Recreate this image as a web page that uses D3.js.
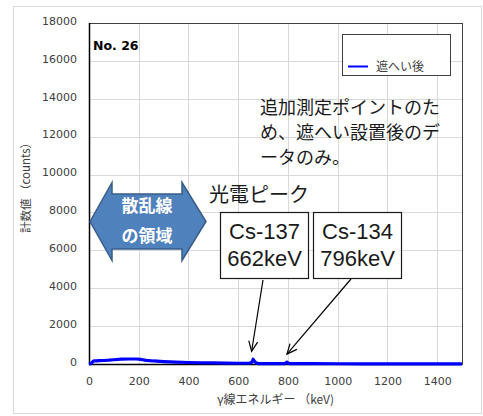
<!DOCTYPE html>
<html><head><meta charset="utf-8">
<script src="https://cdn.jsdelivr.net/npm/d3@7"></script>
<style>
html,body{margin:0;padding:0;background:#fff;}
svg{display:block;}
</style></head>
<body>
<svg id="c" width="483" height="416"></svg>
<script>
// ---- data ----
const energyKeV = [0, 8, 15, 20, 30, 40, 60, 80, 100, 130, 160, 190, 210, 230, 260, 300, 350, 400, 450, 500, 550, 600, 645, 655, 660, 665, 672, 680, 700, 750, 788, 796, 804, 820, 900, 1000, 1100, 1200, 1300, 1400, 1500];
const countsAfter = [0, 20, 120, 160, 170, 175, 185, 200, 225, 255, 265, 265, 240, 195, 160, 130, 100, 80, 65, 55, 45, 40, 40, 90, 250, 150, 60, 25, 25, 22, 25, 100, 25, 20, 15, 12, 10, 8, 6, 5, 5];
const xTicks = [0, 200, 400, 600, 800, 1000, 1200, 1400];
const yTicks = [0, 2000, 4000, 6000, 8000, 10000, 12000, 14000, 16000, 18000];
const seriesName = "遮へい後";
const chartNo = "No. 26";
const noteLines = ["追加測定ポイントのた", "め、遮へい設置後のデ", "ータのみ。"];
const scatterLines = ["散乱線", "の領域"];
const peakTitle = "光電ピーク";
const peakBoxes = [
  {lines: ["Cs-137", "662keV"], energy: 662, counts: 250},
  {lines: ["Cs-134", "796keV"], energy: 796, counts: 100}
];
const xTitle = "γ線エネルギー （keV)";
const yTitle = "計数値 （counts）";

// ---- layout ----
const svg = d3.select("#c");
const L = 89, R = 462, T = 23, B = 364;
const x = d3.scaleLinear().domain([0, 1500]).range([L, R]);
const y = d3.scaleLinear().domain([0, 18000]).range([B, T]);
const jp = "'Noto Sans CJK JP', sans-serif";
const num = "'DejaVu Sans', Verdana, sans-serif";

// outer chart border
svg.append("rect").attr("x", 13.5).attr("y", 6.5).attr("width", 468).attr("height", 407)
  .attr("fill", "#fff").attr("stroke", "#d9d9d9").attr("stroke-width", 1);

// grid
svg.append("g").selectAll("line").data(xTicks.slice(1)).join("line")
  .attr("x1", d => Math.round(x(d)) + 0.5).attr("x2", d => Math.round(x(d)) + 0.5)
  .attr("y1", T).attr("y2", B).attr("stroke", "#d9d9d9").attr("stroke-width", 1);
svg.append("g").selectAll("line").data(yTicks.slice(1)).join("line")
  .attr("y1", d => Math.round(y(d)) + 0.5).attr("y2", d => Math.round(y(d)) + 0.5)
  .attr("x1", L).attr("x2", R).attr("stroke", "#d9d9d9").attr("stroke-width", 1);

// plot border
svg.append("rect").attr("x", L + 0.5).attr("y", T + 0.5).attr("width", R - L).attr("height", B - T)
  .attr("fill", "none").attr("stroke", "#404040").attr("stroke-width", 1);
svg.append("line").attr("x1", L + 0.5).attr("x2", L + 0.5).attr("y1", T).attr("y2", B + 1)
  .attr("stroke", "#000").attr("stroke-width", 1.5);
svg.append("line").attr("x1", L).attr("x2", R).attr("y1", B + 0.5).attr("y2", B + 0.5)
  .attr("stroke", "#000").attr("stroke-width", 1.5);

// axes with d3 axis generators (tick labels)
const xAxis = svg.append("g").attr("transform", `translate(0,${B})`)
  .call(d3.axisBottom(x).tickValues(xTicks).tickSize(0).tickPadding(13).tickFormat(d3.format("d")));
const yAxis = svg.append("g").attr("transform", `translate(${L},0)`)
  .call(d3.axisLeft(y).tickValues(yTicks).tickSize(0).tickPadding(12).tickFormat(d3.format("d")));
[xAxis, yAxis].forEach(g => {
  g.select(".domain").remove();
  g.selectAll("text").attr("font-family", num).attr("font-size", 11).attr("fill", "#404040");
});
yAxis.selectAll("text").attr("dy", "0.12em");

// axis titles
svg.append("text").attr("x", (L + R) / 2).attr("y", 404).attr("text-anchor", "middle")
  .attr("font-family", jp).attr("font-size", 12).attr("fill", "#404040").text(xTitle);
svg.append("text").attr("transform", "translate(30,185) rotate(-90)").attr("text-anchor", "middle")
  .attr("font-family", jp).attr("font-size", 11.5).attr("fill", "#404040").text(yTitle);

// data line
const line = d3.line().x((d, i) => x(energyKeV[i])).y(d => y(d));
svg.append("path").datum(countsAfter).attr("d", line)
  .attr("fill", "none").attr("stroke", "#0000ff").attr("stroke-width", 3.2).attr("stroke-linejoin", "round");

// chart no
svg.append("text").attr("x", 93).attr("y", 50).attr("font-family", num).attr("font-weight", "bold")
  .attr("font-size", 12.5).attr("fill", "#000").text(chartNo);

// legend
svg.append("rect").attr("x", 342.5).attr("y", 34.5).attr("width", 108).attr("height", 41)
  .attr("fill", "#fff").attr("stroke", "#404040").attr("stroke-width", 1);
svg.append("line").attr("x1", 348).attr("x2", 368).attr("y1", 66.5).attr("y2", 66.5)
  .attr("stroke", "#0000ff").attr("stroke-width", 2);
svg.append("text").attr("x", 376).attr("y", 70.5).attr("font-family", jp).attr("font-size", 12)
  .attr("fill", "#404040").text(seriesName);

// note
svg.append("g").selectAll("text").data(noteLines).join("text")
  .attr("x", 260).attr("y", (d, i) => 114 + i * 25)
  .attr("font-family", jp).attr("font-size", 18).attr("fill", "#1a1a1a").text(d => d);

// scatter region double arrow
const ax0 = x(0) + 1, ax1 = 206, ahb0 = 112, ahb1 = 182, ayc = 221.5;
const arrowPts = [[ax0, ayc], [ahb0, 182.5], [ahb0, 194], [ahb1, 194], [ahb1, 182.5], [ax1, ayc],
  [ahb1, 260.5], [ahb1, 249], [ahb0, 249], [ahb0, 260.5]];
svg.append("path").attr("d", d3.line()(arrowPts) + "Z")
  .attr("fill", "#4f81bd").attr("stroke", "#385d8a").attr("stroke-width", 1.5);
svg.append("g").selectAll("text").data(scatterLines).join("text")
  .attr("x", 147).attr("y", (d, i) => 212 + i * 30).attr("text-anchor", "middle")
  .attr("font-family", jp).attr("font-weight", "bold").attr("font-size", 17).attr("fill", "#fff")
  .text(d => d);

// peak title
svg.append("text").attr("x", 209).attr("y", 202)
  .attr("font-family", jp).attr("font-size", 20).attr("fill", "#1a1a1a").text(peakTitle);

// peak boxes + arrows
const boxX = [220.5, 313.5], boxW = 88, boxY = 212.5, boxH = 66;
const arrowStart = [[263, 280], [351, 279]];
peakBoxes.forEach((p, i) => {
  const g = svg.append("g");
  g.append("rect").attr("x", boxX[i]).attr("y", boxY).attr("width", boxW).attr("height", boxH)
    .attr("fill", "#fff").attr("stroke", "#1a1a1a").attr("stroke-width", 1.2);
  g.selectAll("text").data(p.lines).join("text")
    .attr("x", boxX[i] + boxW / 2).attr("y", (d, j) => 239 + j * 27).attr("text-anchor", "middle")
    .attr("font-family", "'Liberation Sans', Arial, sans-serif").attr("font-size", 22).attr("fill", "#1a1a1a")
    .text(d => d);
  const [sx, sy] = arrowStart[i];
  const ex = x(p.energy) - (i === 0 ? 2 : 0), ey = y(p.counts) - 8;
  g.append("line").attr("x1", sx).attr("y1", sy).attr("x2", ex).attr("y2", ey)
    .attr("stroke", "#000").attr("stroke-width", 1.2);
  const ang = Math.atan2(ey - sy, ex - sx), hl = 11, ha = 0.42;
  const p1 = [ex - hl * Math.cos(ang - ha), ey - hl * Math.sin(ang - ha)];
  const p2 = [ex - hl * Math.cos(ang + ha), ey - hl * Math.sin(ang + ha)];
  g.append("path").attr("d", d3.line()([p1, [ex, ey], p2]))
    .attr("fill", "none").attr("stroke", "#000").attr("stroke-width", 1.2);
});
</script>
</body></html>
